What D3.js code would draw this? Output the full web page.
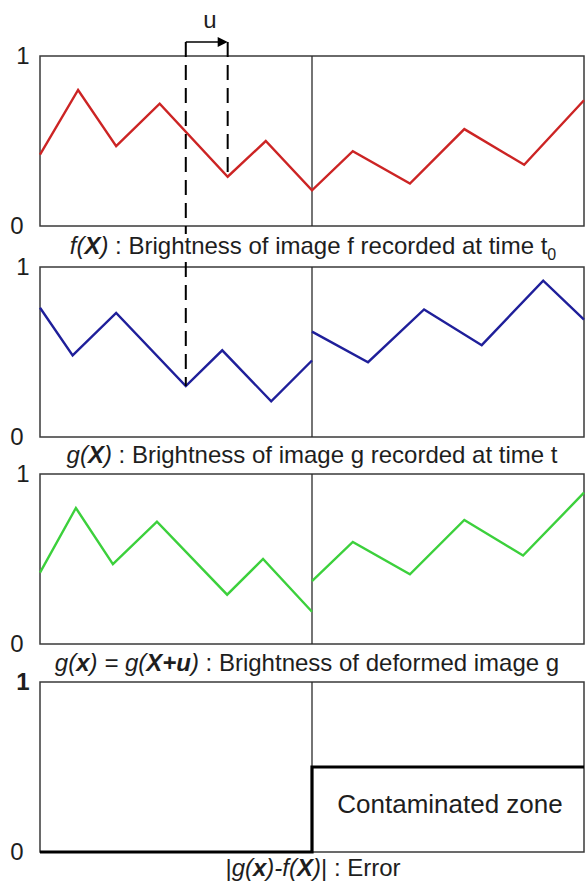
<!DOCTYPE html>
<html>
<head>
<meta charset="utf-8">
<style>
  body { margin: 0; background: #fff; }
  svg { display: block; font-family: "Liberation Sans", Arial, sans-serif; }
  .cap { font-size: 24px; fill: #1e1e1e; }
</style>
<script src="https://cdn.jsdelivr.net/npm/d3@7"></script>
</head>
<body>
<svg id="chart" width="585" height="884"></svg>
<script>
// positions along X in percent of the strip, brightness 0..1
var fX = [0, 7, 14, 22, 34.5, 41.5, 50, 57.5, 68, 78, 89, 100];
var fVal = [0.42, 0.80, 0.47, 0.72, 0.29, 0.50, 0.21, 0.44, 0.25, 0.57, 0.36, 0.74];

var gLeftX = [0, 6, 14, 26.8, 33.5, 42.5, 50];
var gLeftVal = [0.76, 0.48, 0.73, 0.30, 0.51, 0.21, 0.45];
var gRightX = [50, 60.3, 70.6, 81.2, 92.5, 100];
var gRightVal = [0.62, 0.44, 0.75, 0.54, 0.92, 0.69];

var dLeftX = [0, 6.6, 13.4, 21.5, 34.4, 41, 50];
var dLeftVal = [0.42, 0.80, 0.47, 0.72, 0.29, 0.50, 0.19];
var dRightX = [50, 57.5, 68, 78, 88.8, 100];
var dRightVal = [0.37, 0.60, 0.41, 0.73, 0.52, 0.89];

var errX = [0, 50, 50, 100];
var errVal = [0, 0, 0.5, 0.5];

var divider = 50;
var uStart = 26.8, uEnd = 34.5;   // g minimum -> matching f point
var yTicks = ["0", "1"];

var svg = d3.select("#chart");
var left = 40, right = 584, ph = 170;
var tops = [56, 267, 474, 682];

var x = d3.scaleLinear().domain([0, 100]).range([left, right]);
function yScale(i) {
  return d3.scaleLinear().domain([0, 1]).range([tops[i] + ph, tops[i]]);
}
var ys = tops.map(function(t, i){ return yScale(i); });

function zip(a, b){ return a.map(function(v, i){ return [v, b[i]]; }); }

function drawPanel(i, boldTick){
  var y = ys[i];
  svg.append("rect")
    .attr("x", x(0)).attr("y", y(1))
    .attr("width", x(100) - x(0)).attr("height", y(0) - y(1))
    .attr("fill", "none").attr("stroke", "#3a3a3a").attr("stroke-width", 1.5);
  svg.append("line")
    .attr("x1", x(divider)).attr("x2", x(divider))
    .attr("y1", y(1)).attr("y2", y(0))
    .attr("stroke", "#2a2a2a").attr("stroke-width", 1.3);
  svg.append("text").attr("class", "cap")
    .attr("x", 23).attr("y", y(1) + 8).attr("text-anchor", "middle")
    .style("font-weight", boldTick ? "bold" : "normal")
    .text(yTicks[1]);
  svg.append("text").attr("class", "cap")
    .attr("x", 17).attr("y", y(0) + 8).attr("text-anchor", "middle")
    .text(yTicks[0]);
}

function drawLine(i, xs, vals, color, w){
  var y = ys[i];
  var line = d3.line().x(function(d){ return x(d[0]); }).y(function(d){ return y(d[1]); });
  svg.append("path").datum(zip(xs, vals))
    .attr("d", line).attr("fill", "none")
    .attr("stroke", color).attr("stroke-width", w)
    .attr("stroke-linejoin", "miter");
}

// caption: list of [text, style]
function caption(cx, cy, parts){
  var t = svg.append("text").attr("class", "cap")
    .attr("x", cx).attr("y", cy).attr("text-anchor", "middle");
  parts.forEach(function(p){
    var s = t.append("tspan").text(p[0]);
    if (p[1] === "i") s.style("font-style", "italic");
    if (p[1] === "bi") s.style("font-style", "italic").style("font-weight", "bold");
    if (p[1] === "sub") s.attr("dy", 6).style("font-size", "16px");
  });
}

drawPanel(0, false);
drawPanel(1, false);
drawPanel(2, false);
drawPanel(3, true);

drawLine(0, fX, fVal, "#cc2424", 2.4);
drawLine(1, gLeftX, gLeftVal, "#1f1f9a", 2.4);
drawLine(1, gRightX, gRightVal, "#1f1f9a", 2.4);
drawLine(2, dLeftX, dLeftVal, "#3cd03c", 2.4);
drawLine(2, dRightX, dRightVal, "#3cd03c", 2.4);
drawLine(3, errX, errVal, "#000", 3.2);

// u arrow and dashed guides
var arrowY = 42;
svg.append("line")
  .attr("x1", x(uStart)).attr("x2", x(uEnd) - 8)
  .attr("y1", arrowY).attr("y2", arrowY)
  .attr("stroke", "#000").attr("stroke-width", 1.6);
svg.append("path")
  .attr("d", d3.line()([[x(uEnd) - 10, arrowY - 5], [x(uEnd), arrowY], [x(uEnd) - 10, arrowY + 5]]) + "Z")
  .attr("fill", "#000");
svg.append("text").attr("class", "cap")
  .attr("x", 210).attr("y", 28).attr("text-anchor", "middle").text("u");

function dashed(xv, y1, y2){
  svg.append("line")
    .attr("x1", x(xv)).attr("x2", x(xv)).attr("y1", y1).attr("y2", y2)
    .attr("stroke", "#000").attr("stroke-width", 2)
    .attr("stroke-dasharray", "15,8");
}
dashed(uStart, arrowY, ys[0](0) + 8);
dashed(uStart, ys[1](1) - 5, ys[1](0.30));
dashed(uEnd, arrowY, ys[0](0.29));

caption(313, 254, [["f(", "i"], ["X", "bi"], [")", "i"], [" : Brightness of image f recorded at time t", ""], ["0", "sub"]]);
caption(312, 463, [["g(", "i"], ["X", "bi"], [")", "i"], [" : Brightness of image g recorded at time t", ""]]);
caption(307, 671, [["g(", "i"], ["x", "bi"], [") = g(", "i"], ["X+u", "bi"], [")", "i"], [" : Brightness of deformed image g", ""]]);
caption(313, 876, [["|", ""], ["g(", "i"], ["x", "bi"], [")-f(", "i"], ["X", "bi"], [")", "i"], ["| : Error", ""]]);

svg.append("text").attr("class", "cap")
  .attr("x", 450).attr("y", 813).attr("text-anchor", "middle")
  .style("font-size", "26px")
  .text("Contaminated zone");
</script>
</body>
</html>
